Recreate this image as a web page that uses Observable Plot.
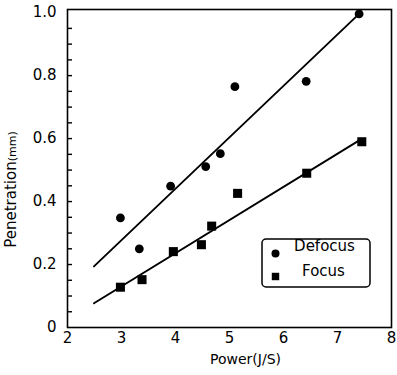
<!DOCTYPE html>
<html>
<head>
<meta charset="utf-8">
<script src="https://cdn.jsdelivr.net/npm/d3@7"></script>
<script src="https://cdn.jsdelivr.net/npm/@observablehq/plot@0.6"></script>
<style>
  html, body { margin: 0; padding: 0; background: #fff; }
  svg { display: block; }
</style>
</head>
<body>
<div id="chart"></div>
<script>
// ---- data ----
const seriesNames = ["Defocus", "Focus"];

const defocusPower = [2.98, 3.33, 3.91, 4.56, 4.83, 5.1, 6.42, 7.4];
const defocusPenetration = [0.348, 0.25, 0.449, 0.511, 0.552, 0.765, 0.782, 0.996];

const focusPower = [2.98, 3.38, 3.96, 4.48, 4.67, 5.15, 6.43, 7.45];
const focusPenetration = [0.128, 0.152, 0.241, 0.263, 0.322, 0.426, 0.49, 0.59];

// fitted lines (end points)
const defocusFitPower = [2.49, 7.4];
const defocusFitPenetration = [0.194, 0.996];
const focusFitPower = [2.49, 7.38];
const focusFitPenetration = [0.077, 0.592];

const xTicks = [2, 3, 4, 5, 6, 7, 8];
const yTicks = [0, 0.2, 0.4, 0.6, 0.8, 1.0];
const yTickLabels = ["0", "0.2", "0.4", "0.6", "0.8", "1.0"];
const yMinorTicks = [0.05, 0.1, 0.15, 0.2, 0.25, 0.3, 0.35, 0.4, 0.45, 0.5,
                     0.55, 0.6, 0.65, 0.7, 0.75, 0.8, 0.85, 0.9, 0.95];

const xLabel = "Power(J/S)";
const yLabelMain = "Penetration";
const yLabelUnit = "(mm)";

const defocusRows = defocusPower.map((p, i) => ({power: p, pen: defocusPenetration[i]}));
const focusRows = focusPower.map((p, i) => ({power: p, pen: focusPenetration[i]}));
const defocusFit = defocusFitPower.map((p, i) => ({power: p, pen: defocusFitPenetration[i]}));
const focusFit = focusFitPower.map((p, i) => ({power: p, pen: focusFitPenetration[i]}));

const font = "'DejaVu Sans', sans-serif";
const W = 397, H = 375, mL = 67, mR = 6, mT = 9, mB = 48;
const frameWidth = W - mL - mR;
const tickLen = 5;

const plot = Plot.plot({
  width: W,
  height: H,
  marginLeft: mL,
  marginRight: mR,
  marginTop: mT,
  marginBottom: mB,
  x: {domain: [2, 8]},
  y: {domain: [0, 1.01]},
  style: {fontFamily: font, fontSize: "15px", background: "white", color: "black"},
  marks: [
    Plot.frame({stroke: "black", strokeWidth: 1.6}),
    // inward minor ticks on the left axis
    Plot.tickY(yMinorTicks, {y: d => d, insetRight: frameWidth - tickLen, stroke: "black", strokeWidth: 1.4}),
    Plot.axisY(yTicks, {anchor: "left", tickSize: 0, tickPadding: 11, label: null,
      tickFormat: d => yTickLabels[yTicks.indexOf(d)], fontSize: 15}),
    Plot.axisX(xTicks, {anchor: "bottom", tickSize: 0, tickPadding: 5, label: null, fontSize: 15}),
    Plot.line(defocusFit, {x: "power", y: "pen", stroke: "black", strokeWidth: 1.9}),
    Plot.line(focusFit, {x: "power", y: "pen", stroke: "black", strokeWidth: 1.9}),
    Plot.dot(defocusRows, {x: "power", y: "pen", r: 4.4, fill: "black", symbol: "circle"}),
    Plot.dot(focusRows, {x: "power", y: "pen", r: 5.1, fill: "black", symbol: "square"}),
    // legend entries
    Plot.dot([seriesNames[0]], {frameAnchor: "bottom-right", dx: -116, dy: -74, r: 4, fill: "black", symbol: "circle"}),
    Plot.dot([seriesNames[1]], {frameAnchor: "bottom-right", dx: -116, dy: -51, r: 4.2, fill: "black", symbol: "square"}),
    Plot.text([seriesNames[0]], {frameAnchor: "bottom-right", dx: -67, dy: -77, textAnchor: "middle", fontSize: 15, fill: "black"}),
    Plot.text([seriesNames[1]], {frameAnchor: "bottom-right", dx: -68, dy: -52, textAnchor: "middle", fontSize: 15, fill: "black"}),
    // axis labels
    Plot.text([xLabel], {frameAnchor: "bottom", dx: 16, dy: 36, textAnchor: "middle", fontSize: 14, fill: "black"}),
    Plot.text([yLabelMain + yLabelUnit], {frameAnchor: "left", dx: -56, dy: 21, rotate: -90, textAnchor: "middle", fontSize: 15, fill: "black"})
  ]
});

document.getElementById("chart").appendChild(plot);

// split the y label into main text and a smaller unit
const svg = d3.select(plot);
svg.selectAll("text").each(function () {
  if (this.textContent === yLabelMain + yLabelUnit) {
    const t = d3.select(this);
    t.text(null);
    t.append("tspan").text(yLabelMain);
    t.append("tspan").attr("font-size", 11).text(yLabelUnit);
  }
});

// legend box (rounded) around the legend entries
svg.append("rect")
  .attr("x", W - mR - 129)
  .attr("y", H - mB - 88)
  .attr("width", 108)
  .attr("height", 48)
  .attr("rx", 4)
  .attr("fill", "none")
  .attr("stroke", "black")
  .attr("stroke-width", 1.5);
</script>
</body>
</html>
